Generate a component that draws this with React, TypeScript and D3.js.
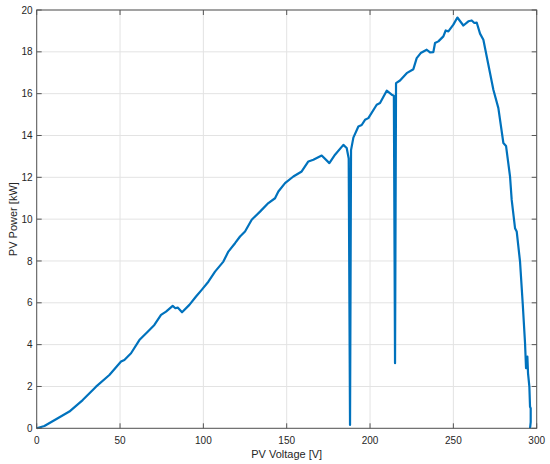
import React from "react";
import * as d3 from "d3";

const voltage = [
  0, 4.6, 11.6, 19.6, 27.6, 35.6, 43.6, 50.6, 52.6, 56.6, 61.6, 66.6, 70.6, 74.6, 77.6, 81.6, 83.2, 84.6, 87.2,
  91.6, 95.6, 99, 103, 107, 112, 115, 119, 122, 125, 129, 134, 139, 143, 145, 149, 154, 159, 163, 166, 171,
  175.6, 179, 184, 186, 187.2, 188, 188.6, 190, 193, 195, 197, 199, 204, 206, 210, 213, 214.3, 215, 215.6,
  218, 222, 226, 228, 230.4, 234, 236, 238, 239, 241, 244, 245.4, 247, 250, 252.4, 256, 259, 261, 262.6,
  264, 266, 268, 271, 274, 277, 280, 281.6, 284, 285, 287, 288, 290, 291.6, 293, 293.6, 294.4, 294.8,
  295.6, 296, 296.4, 296.4, 296,
];
const power = [
  0, 0.11, 0.43, 0.8, 1.35, 1.99, 2.55, 3.19, 3.27, 3.59, 4.22, 4.62, 4.94, 5.42, 5.58, 5.85, 5.74, 5.77, 5.55,
  5.9, 6.3, 6.62, 7.01, 7.49, 7.97, 8.45, 8.85, 9.17, 9.41, 9.97, 10.36, 10.77, 11.0, 11.32, 11.72, 12.04,
  12.28, 12.76, 12.84, 13.04, 12.68, 13.08, 13.55, 13.4, 12.9, 0.16, 13.3, 13.9, 14.43, 14.5, 14.75, 14.83,
  15.47, 15.55, 16.14, 15.95, 15.9, 3.11, 16.5, 16.63, 16.98, 17.17, 17.7, 17.94, 18.1, 17.97, 17.99, 18.42,
  18.5, 18.74, 19.02, 18.98, 19.3, 19.64, 19.26, 19.46, 19.5, 19.38, 19.4, 18.87, 18.58, 17.38, 16.19,
  15.31, 13.64, 13.5, 12.04, 10.92, 9.57, 9.41, 7.97, 5.98, 4.07, 2.87, 3.43, 2.63, 1.99, 1.03, 0.96, 0.3, 0,
];
const xTicks = [0, 50, 100, 150, 200, 250, 300];
const yTicks = [0, 2, 4, 6, 8, 10, 12, 14, 16, 18, 20];
const xLabel = "PV Voltage [V]";
const yLabel = "PV Power [kW]";

export default function App() {
  const W = 550, H = 464;
  const left = 36.7, right = 536.7, top = 10, bottom = 428.3;
  const x = d3.scaleLinear().domain([0, 300]).range([left, right]);
  const y = d3.scaleLinear().domain([0, 20]).range([bottom, top]);
  const pts = voltage.map((v, i) => [v, power[i]] as [number, number]);
  const line = d3.line<[number, number]>().x((d) => x(d[0])).y((d) => y(d[1]));
  const axisColor = "#555";
  const textColor = "#262626";
  const font = "Liberation Sans, Arial, Helvetica, sans-serif";
  return (
    <svg width={W} height={H} style={{ position: "absolute", left: 0, top: 0, background: "#fff" }}>
      <rect x={0} y={0} width={W} height={H} fill="#fff" />
      {xTicks.map((t) => (
        <line key={"gx" + t} x1={x(t)} x2={x(t)} y1={top} y2={bottom} stroke="#e3e3e3" strokeWidth={1} />
      ))}
      {yTicks.map((t) => (
        <line key={"gy" + t} x1={left} x2={right} y1={y(t)} y2={y(t)} stroke="#e3e3e3" strokeWidth={1} />
      ))}
      <path d={line(pts) || ""} fill="none" stroke="#0072BD" strokeWidth={2.2} strokeLinejoin="round" />
      <rect x={left} y={top} width={right - left} height={bottom - top} fill="none" stroke={axisColor} strokeWidth={1} />
      {xTicks.map((t) => (
        <g key={"tx" + t}>
          <line x1={x(t)} x2={x(t)} y1={bottom} y2={bottom - 5} stroke={axisColor} />
          <line x1={x(t)} x2={x(t)} y1={top} y2={top + 5} stroke={axisColor} />
          <text x={x(t)} y={444} fontSize={10} fontFamily={font} fill={textColor} textAnchor="middle">
            {t}
          </text>
        </g>
      ))}
      {yTicks.map((t) => (
        <g key={"ty" + t}>
          <line x1={left} x2={left + 5} y1={y(t)} y2={y(t)} stroke={axisColor} />
          <line x1={right} x2={right - 5} y1={y(t)} y2={y(t)} stroke={axisColor} />
          <text x={32.5} y={y(t) + 3.6} fontSize={10} fontFamily={font} fill={textColor} textAnchor="end">
            {t}
          </text>
        </g>
      ))}
      <text x={286.7} y={457.5} fontSize={11} fontFamily={font} fill={textColor} textAnchor="middle">
        {xLabel}
      </text>
      <text
        transform={`translate(16.8, ${(top + bottom) / 2}) rotate(-90)`}
        fontSize={11}
        fontFamily={font}
        fill={textColor}
        textAnchor="middle"
      >
        {yLabel}
      </text>
    </svg>
  );
}
